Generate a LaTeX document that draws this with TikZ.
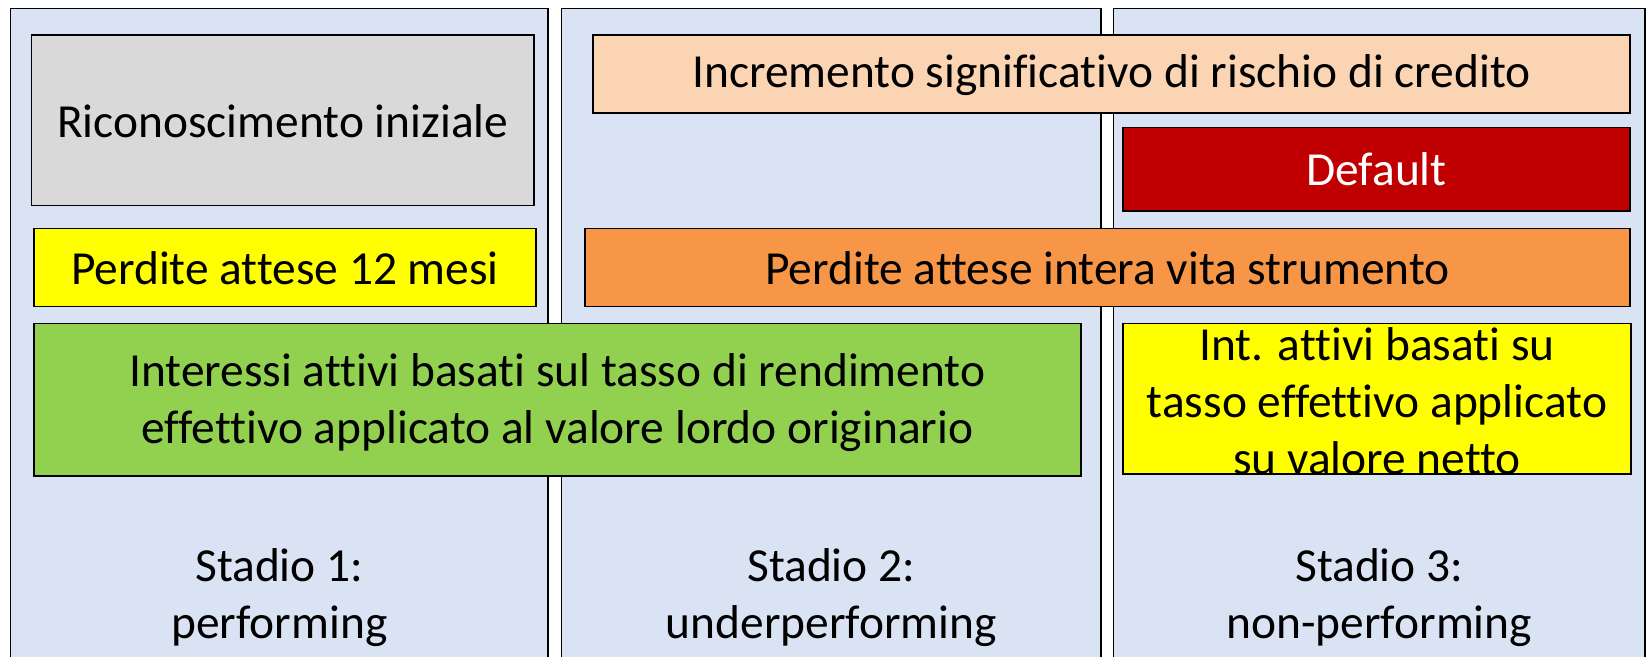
\documentclass[tikz,border=0pt]{standalone}
\usepackage{fontspec}
\setmainfont[Ligatures={NoCommon}]{Carlito}
\definecolor{colfill}{HTML}{DAE3F3}
\definecolor{ricgray}{HTML}{D9D9D9}
\definecolor{peach}{HTML}{FBD4B4}
\definecolor{defred}{HTML}{C00000}
\definecolor{vitaorange}{HTML}{F79646}
\definecolor{hlyellow}{HTML}{FFFF00}
\definecolor{intgreen}{HTML}{92D050}

\begin{document}
\begin{tikzpicture}
      [
        x=0.02cm, y=-0.02cm,
        col/.style={draw=black, line width=1pt, fill=colfill},
        box/.style={draw=black, line width=1pt},
        txt/.style={align=center, inner sep=0pt, font=\fontsize{27}{32.5}\selectfont}
      ]
      \useasboundingbox (0,0) rectangle (1652,656);
      \fill [white] (0,0) rectangle (1652,656);
      \clip (0,0) rectangle (1652,656);
      % columns
      \foreach \xa/\xb in {10.5/548, 561.6/1101, 1113.6/1645} {
          \draw [col] (\xa,8.4) rectangle (\xb,690);
      }
      % row 1
      \draw [box, fill=ricgray] (31.6,34.8) rectangle (534,205.5);
      \draw [box, fill=peach] (593,34.8) rectangle (1630,112.7);
      \draw [box, fill=defred] (1123,127.5) rectangle (1630,210.7);
      % row 2
      \draw [box, fill=hlyellow] (33.7,228.6) rectangle (536,306.6);
      \draw [box, fill=vitaorange] (584.7,228.6) rectangle (1630,306.6);
      % row 3
      \draw [box, fill=intgreen] (33.7,323.5) rectangle (1081,476);
      \draw [box, fill=hlyellow] (1123,323.5) rectangle (1631,474);
      % labels
      \node [txt] (ric) at (282.8,121) {Riconoscimento iniziale};
      \node [txt] (incr) at (1111.5,75) {Incremento significativo di rischio di credito};
      \node [txt, text=white] (def) at (1376.5,169) {Default};
      \node [txt] (p12) at (284.9,268) {Perdite attese 12 mesi};
      \node [txt] (pvita) at (1107.4,268) {Perdite attese intera vita strumento};
      \node [txt] (intlordo) at (557.4,403) {Interessi attivi basati sul tasso di rendimento\\effettivo applicato al valore lordo originario};
      \node [txt] (intnetto) at (1377,401) {Int. attivi basati su\\tasso effettivo applicato\\su valore netto};
      % stadi
      \node [txt] (s1) at (279.3,598) {Stadio 1:\\performing};
      \node [txt] (s2) at (831.3,598) {Stadio 2:\\underperforming};
      \node [txt] (s3) at (1379.3,598) {Stadio 3:\\non-performing};
\end{tikzpicture}
\end{document}
